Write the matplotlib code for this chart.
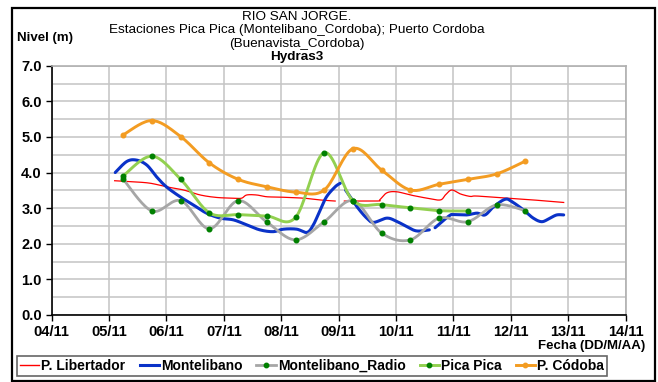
import numpy as np
import matplotlib
matplotlib.use("Agg")
import matplotlib.pyplot as plt
from matplotlib.lines import Line2D
from matplotlib.patches import Rectangle

plt.rcParams['font.family'] = ['Liberation Sans', 'DejaVu Sans']

# ---- data (x = days after 04/11) ----
tick_labels = ["04/11", "05/11", "06/11", "07/11", "08/11", "09/11",
               "10/11", "11/11", "12/11", "13/11", "14/11"]

lib_x = [1.10, 1.43, 1.72, 2.00, 2.30, 2.59, 2.88, 3.17, 3.31, 3.40, 3.57,
         3.75, 3.98, 4.39, 4.68, 4.94, 5.02, 5.10, 5.67, 5.72, 5.84, 6.01,
         6.25, 6.54, 6.77, 6.86, 6.97, 7.12, 7.29, 7.41, 7.93, 8.39, 8.92]
lib_y = [3.77, 3.74, 3.70, 3.60, 3.51, 3.37, 3.30, 3.28, 3.28, 3.37, 3.37,
         3.32, 3.31, 3.28, 3.23, 3.20, np.nan, 3.20, 3.20, 3.24, 3.43, 3.46,
         3.37, 3.28, 3.23, 3.37, 3.51, 3.40, 3.33, 3.34, 3.28, 3.23, 3.16]

mon_x = [1.11, 1.31, 1.48, 1.66, 1.83, 2.00, 2.24, 2.47, 2.70, 2.94, 3.17,
         3.40, 3.63, 3.86, 4.04, 4.27, 4.45, 4.56, 4.68, 4.79, 4.94, 5.03,
         5.07, 5.12, 5.32, 5.49, 5.61, 5.84, 6.01, 6.19, 6.36, 6.58, 6.62,
         6.68, 6.80, 6.94, 7.00, 7.23, 7.41, 7.55, 7.70, 7.90, 8.02, 8.22,
         8.39, 8.54, 8.68, 8.80, 8.92]
mon_y = [4.00, 4.31, 4.35, 4.21, 3.88, 3.60, 3.32, 3.09, 2.86, 2.72, 2.67,
         2.53, 2.39, 2.34, 2.41, 2.41, 2.32, 2.53, 2.95, 3.32, 3.60, 3.70,
         np.nan, 3.51, 3.04, 2.72, 2.60, 2.72, 2.63, 2.48, 2.36, 2.39, np.nan,
         2.45, 2.62, 2.80, 2.82, 2.81, 2.86, 2.81, 3.04, 3.25, 3.18, 2.95,
         2.72, 2.62, 2.72, 2.81, 2.81]

radio_x = [1.25, 1.75, 2.25, 2.75, 3.25, 3.75, 4.25, 4.75, 5.25, 5.75,
           6.25, 6.75, 7.25, 7.75, 8.25]
radio_y = [3.81, 2.92, 3.21, 2.42, 3.21, 2.61, 2.11, 2.62, 3.21, 2.30,
           2.11, 2.72, 2.62, 3.09, 2.93]

pica_x = [1.25, 1.75, 2.25, 2.75, 3.25, 3.75, 4.25, 4.75, 5.25, 5.75,
          6.25, 6.75, 7.25]
pica_y = [3.91, 4.46, 3.81, 2.87, 2.82, 2.78, 2.74, 4.56, 3.21, 3.10,
          3.01, 2.93, 2.92]

cord_x = [1.25, 1.75, 2.25, 2.75, 3.25, 3.75, 4.25, 4.75, 5.25, 5.75,
          6.25, 6.75, 7.25, 7.75, 8.25]
cord_y = [5.06, 5.46, 5.01, 4.27, 3.81, 3.60, 3.45, 3.51, 4.67, 4.07,
          3.51, 3.67, 3.81, 3.96, 4.32]


def smooth(x, y, steps=20):
    """Bezier smoothing through the points (Catmull-Rom control points)."""
    x = np.asarray(x, float)
    y = np.asarray(y, float)
    idx = np.where(~np.isnan(y))[0]
    runs = np.split(idx, np.where(np.diff(idx) != 1)[0] + 1)
    ox, oy = [], []
    for r in runs:
        px, py = x[r], y[r]
        n = len(px)
        for i in range(n - 1):
            i0 = max(i - 1, 0)
            i3 = min(i + 2, n - 1)
            c1x = px[i] + (px[i + 1] - px[i0]) / 6
            c1y = py[i] + (py[i + 1] - py[i0]) / 6
            c2x = px[i + 1] - (px[i3] - px[i]) / 6
            c2y = py[i + 1] - (py[i3] - py[i]) / 6
            t = np.linspace(0, 1, steps)
            a = (1 - t) ** 3
            b = 3 * (1 - t) ** 2 * t
            c = 3 * (1 - t) * t ** 2
            d = t ** 3
            ox.extend(a * px[i] + b * c1x + c * c2x + d * px[i + 1])
            oy.extend(a * py[i] + b * c1y + c * c2y + d * py[i + 1])
        ox.append(np.nan)
        oy.append(np.nan)
    return np.array(ox), np.array(oy)


W, H = 658, 382
fig = plt.figure(figsize=(W / 100, H / 100), dpi=100)
ax = fig.add_axes([51.5 / W, 1 - 315 / H, (625.7 - 51.5) / W, 249.3 / H])

grid_c = '#c4c4c4'
ax.set_xlim(0, 10)
ax.set_ylim(0, 7)
ax.set_xticks(np.arange(11))
ax.set_xticklabels(tick_labels)
ax.set_yticks(np.arange(0, 8))
ax.set_yticklabels([f"{v:.1f}" for v in range(8)])
ax.set_yticks(np.arange(0, 7.01, 0.5), minor=True)
ax.grid(True, which='major', color=grid_c, lw=1.1)
ax.grid(True, which='minor', axis='y', color=grid_c, lw=1.1)
ax.tick_params(axis='y', which='minor', length=0)
ax.tick_params(which='major', direction='out', length=4, width=1, color='black',
               labelsize=10.5, pad=3)
for lab in ax.get_xticklabels() + ax.get_yticklabels():
    lab.set_fontweight('bold')
ax.set_axisbelow(True)
ax.spines['left'].set_color('black')
ax.spines['bottom'].set_color('black')
ax.spines['left'].set_linewidth(1.2)
ax.spines['bottom'].set_linewidth(1.2)
for s in ('top', 'right'):
    ax.spines[s].set_color('#b0b0b0')
    ax.spines[s].set_linewidth(1.2)

red = '#ff0000'
blue = '#0a32c8'
gray = '#a6a6a6'
lgreen = '#92d050'
dgreen = '#008000'
orange = '#f39c22'

sx, sy = smooth(lib_x, lib_y)
ax.plot(sx, sy, color=red, lw=0.9, zorder=3)
sx, sy = smooth(mon_x, mon_y)
ax.plot(sx, sy, color=blue, lw=2.2, zorder=3, solid_capstyle='round')
sx, sy = smooth(radio_x, radio_y)
ax.plot(sx, sy, color=gray, lw=2.0, zorder=4)
sx, sy = smooth(pica_x, pica_y)
ax.plot(sx, sy, color=lgreen, lw=2.1, zorder=5)
sx, sy = smooth(cord_x, cord_y)
ax.plot(sx, sy, color=orange, lw=2.1, zorder=6)
ax.plot(radio_x, radio_y, 'o', color=dgreen, ms=3.3, mec=dgreen, zorder=7)
ax.plot(pica_x, pica_y, 'o', color=dgreen, ms=3.3, mec=dgreen, zorder=7)
ax.plot(cord_x, cord_y, 'o', color=orange, ms=3.3, mec=orange, zorder=7)

# titles and axis labels
title_lines = [("RIO SAN JORGE.", 'normal', 17),
               ("Estaciones Pica Pica (Montelibano_Cordoba); Puerto Cordoba", 'normal', 30),
               ("(Buenavista_Cordoba)", 'normal', 44),
               ("Hydras3", 'bold', 57)]
for txt, wt, yp in title_lines:
    fig.text(297 / W, 1 - yp / H, txt, ha='center', va='center',
             fontsize=9.7, fontweight=wt)
fig.text(17 / W, 1 - 38 / H, "Nivel (m)", ha='left', va='center',
         fontsize=9.5, fontweight='bold')
fig.text(645 / W, 1 - 346 / H, "Fecha (DD/M/AA)", ha='right', va='center',
         fontsize=9.5, fontweight='bold')

# legend
handles = [
    Line2D([], [], color=red, lw=1.0),
    Line2D([], [], color=blue, lw=2.2),
    Line2D([], [], color=gray, lw=2.0, marker='o', ms=3.2, mfc=dgreen, mec=dgreen),
    Line2D([], [], color=lgreen, lw=2.1, marker='o', ms=3.2, mfc=dgreen, mec=dgreen),
    Line2D([], [], color=orange, lw=2.1, marker='o', ms=3.2, mfc=orange, mec=orange),
]
names = ["P. Libertador", "Montelibano", "Montelibano_Radio", "Pica Pica", "P. Códoba"]
leg = fig.legend(handles, names, loc='center', bbox_to_anchor=(312 / W, 1 - 366 / H),
                 ncol=5, prop={'weight': 'bold', 'size': 10}, frameon=True,
                 fancybox=False, edgecolor='#404040', handlelength=1.4,
                 handletextpad=0.15, columnspacing=1.0, borderpad=0.2,
                 borderaxespad=0)
leg.get_frame().set_linewidth(1.2)

# outer chart border
fig.patches.append(Rectangle((12 / W, 1 - 381 / H), (655 - 12) / W, (381 - 8) / H,
                             transform=fig.transFigure, fill=False,
                             edgecolor='black', lw=1.6))

fig.savefig("out.png", dpi=100)
